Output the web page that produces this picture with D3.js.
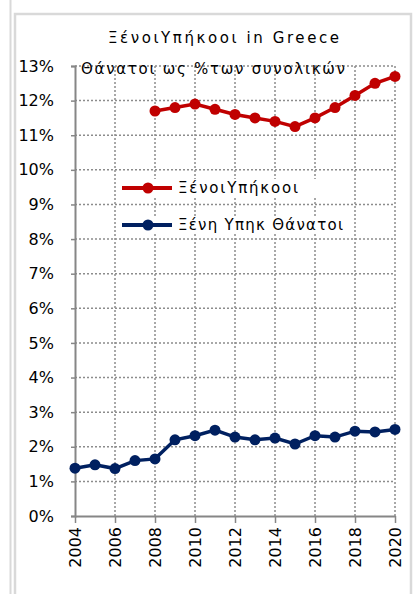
<!DOCTYPE html>
<html><head><meta charset="utf-8">
<script src="https://cdn.jsdelivr.net/npm/d3@7"></script>
<style>body{margin:0;background:#fff;}svg{display:block;}</style>
</head><body>
<script>
const years = d3.range(2004, 2021);
const citizensYears = [2008,2009,2010,2011,2012,2013,2014,2015,2016,2017,2018,2019,2020];
const citizensPct = [11.7,11.8,11.9,11.75,11.6,11.5,11.4,11.25,11.5,11.8,12.15,12.5,12.7];
const deathsYears = [2004,2005,2006,2007,2008,2009,2010,2011,2012,2013,2014,2015,2016,2017,2018,2019,2020];
const deathsPct = [1.38,1.48,1.37,1.6,1.65,2.2,2.32,2.48,2.28,2.2,2.25,2.08,2.32,2.28,2.45,2.43,2.5];
const yTicks = d3.range(0, 14);
const xTicks = [2004,2006,2008,2010,2012,2014,2016,2018,2020];
const seriesNames = ["ΞένοιΥπήκοοι", "Ξένη Υπηκ Θάνατοι"];
const seriesColors = ["#c00000", "#002060"];
const title = "ΞένοιΥπήκοοι in Greece";
const subtitle = "Θάνατοι ως %των συνολικών";

const W = 416, H = 594;
const svg = d3.select("body").append("svg").attr("width", W).attr("height", H);
svg.append("rect").attr("width", W).attr("height", H).attr("fill", "#fff");
svg.append("line").attr("x1", 10.5).attr("x2", 10.5).attr("y1", 0).attr("y2", H).attr("stroke", "#d9d9d9").attr("stroke-width", 2);
svg.append("rect").attr("x", 15).attr("y", 14).attr("width", 396).attr("height", 600)
  .attr("fill", "#fff").attr("stroke", "#d9d9d9").attr("stroke-width", 2.5);

const x = d3.scaleLinear().domain([2004, 2020]).range([75, 395]);
const y = d3.scaleLinear().domain([0, 13]).range([516, 66]);

// gridlines
const g = svg.append("g");
g.selectAll(".hg").data(yTicks.filter(d => d > 0)).join("line")
  .attr("x1", x(2004)).attr("x2", x(2020)).attr("y1", d => y(d)).attr("y2", d => y(d))
  .attr("stroke", "#8c8c8c").attr("stroke-width", 1.5).attr("stroke-dasharray", "2,2");
g.selectAll(".vg").data(xTicks.filter(d => d > 2004)).join("line")
  .attr("x1", d => x(d)).attr("x2", d => x(d)).attr("y1", y(13)).attr("y2", y(0))
  .attr("stroke", "#8c8c8c").attr("stroke-width", 1.5).attr("stroke-dasharray", "2,2");

// axes
const yAxis = d3.axisLeft(y).tickValues(yTicks).tickFormat(d => d + "%").tickSize(4).tickPadding(17);
const ya = svg.append("g").attr("transform", `translate(${x(2004)},0)`).call(yAxis);
ya.select(".domain").attr("stroke", "#868686").attr("stroke-width", 2);
ya.selectAll(".tick line").attr("stroke", "#868686").attr("stroke-width", 1.5);
ya.selectAll("text").attr("font-family", "DejaVu Sans, sans-serif").attr("font-size", 16).attr("fill", "#000");

const xAxis = d3.axisBottom(x).tickValues(xTicks).tickFormat(d3.format("d")).tickSize(7).tickSizeOuter(0);
const xa = svg.append("g").attr("transform", `translate(0,${y(0)})`).call(xAxis);
xa.select(".domain").attr("stroke", "#868686").attr("stroke-width", 2);
xa.selectAll(".tick line").attr("stroke", "#868686").attr("stroke-width", 1.5);
xa.selectAll("text").attr("font-family", "DejaVu Sans, sans-serif").attr("font-size", 16).attr("fill", "#000")
  .attr("transform", "rotate(-90)").attr("x", -11).attr("y", 0).attr("dy", "0.35em").attr("text-anchor", "end");

// series
const line = d3.line().x(d => x(d[0])).y(d => y(d[1]));
const series = [
  citizensYears.map((yr, i) => [yr, citizensPct[i]]),
  deathsYears.map((yr, i) => [yr, deathsPct[i]])
];
series.forEach((data, i) => {
  svg.append("path").datum(data).attr("d", line).attr("fill", "none")
    .attr("stroke", seriesColors[i]).attr("stroke-width", 3.5);
  svg.selectAll(".pt" + i).data(data).join("circle")
    .attr("cx", d => x(d[0])).attr("cy", d => y(d[1])).attr("r", 5.5).attr("fill", seriesColors[i]);
});

// titles
svg.append("text").attr("x", 108).attr("y", 43).attr("textLength", 231).attr("lengthAdjust", "spacing")
  .attr("font-family", "DejaVu Sans, sans-serif").attr("font-size", 15).text(title);
svg.append("text").attr("x", 81).attr("y", 74).attr("textLength", 264).attr("lengthAdjust", "spacing")
  .attr("font-family", "DejaVu Sans, sans-serif").attr("font-size", 15).text(subtitle);

// legend
const legY = [188, 225];
legY.forEach((ly, i) => {
  svg.append("rect").attr("x", 118).attr("y", ly - 9).attr("width", 232).attr("height", 18).attr("fill", "#fff");
  svg.append("line").attr("x1", 122).attr("x2", 172).attr("y1", ly).attr("y2", ly)
    .attr("stroke", seriesColors[i]).attr("stroke-width", 4);
  svg.append("circle").attr("cx", 148).attr("cy", ly).attr("r", 5.5).attr("fill", seriesColors[i]);
  svg.append("text").attr("x", 178).attr("y", ly).attr("dy", "0.35em")
    .attr("textLength", i === 0 ? 120 : 165).attr("lengthAdjust", "spacing")
    .attr("font-family", "DejaVu Sans, sans-serif").attr("font-size", 15).text(seriesNames[i]);
});
</script>
</body></html>
